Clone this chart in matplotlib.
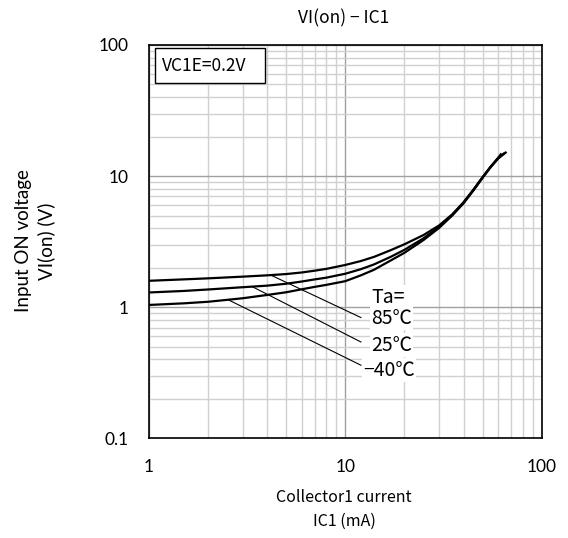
import matplotlib
matplotlib.use("Agg")
import matplotlib.pyplot as plt
from matplotlib.patches import Rectangle
from matplotlib.ticker import LogLocator, NullFormatter, FixedLocator

plt.rcParams['font.family'] = ['Noto Sans CJK JP', 'DejaVu Sans']

# Data
ic_85 = [1, 1.5, 2, 3, 4, 5, 6, 7, 8, 10, 12, 14, 17, 20, 25, 30, 35, 40, 45, 50, 55, 60, 62.4]
v_85 = [1.59, 1.63, 1.66, 1.71, 1.75, 1.79, 1.84, 1.90, 1.96, 2.10, 2.25, 2.42, 2.72, 3.02,
        3.55, 4.20, 5.1, 6.3, 7.9, 9.8, 11.8, 13.8, 14.9]
ic_25 = [1, 1.5, 2, 3, 4, 5, 6, 7, 8, 10, 12, 14, 17, 20, 25, 30, 35, 40, 45, 50, 55, 60, 65]
v_25 = [1.295, 1.33, 1.365, 1.42, 1.46, 1.51, 1.57, 1.63, 1.68, 1.80, 1.95, 2.12, 2.42, 2.74,
        3.35, 4.10, 5.05, 6.3, 7.9, 9.8, 11.8, 13.7, 15.1]
ic_m40 = [1, 1.5, 2, 3, 4, 5, 6, 7, 8, 10, 12, 14, 17, 20, 25, 30, 35, 40, 45, 50, 55, 60, 66.2]
v_m40 = [1.04, 1.07, 1.10, 1.17, 1.24, 1.30, 1.37, 1.43, 1.48, 1.58, 1.75, 1.93, 2.27, 2.60,
         3.25, 4.02, 5.0, 6.2, 7.8, 9.7, 11.7, 13.6, 15.3]

x_ticks = [1, 10, 100]
x_tick_labels = ["1", "10", "100"]
y_ticks = [0.1, 1, 10, 100]
y_tick_labels = ["0.1", "1", "10", "100"]

temp_labels = ["85℃", "25℃", "−40℃"]
leader_start = [(4.18, 1.755), (3.37, 1.43), (2.56, 1.13)]
leader_end = [(12.0, 0.834), (12.0, 0.543), (12.0, 0.361)]
label_pos = [(13.5, 0.824), (13.5, 0.513), (12.3, 0.330)]

fig = plt.figure(figsize=(5.68, 5.38), dpi=100)
ax = fig.add_axes([0.2623, 0.1853, 0.6914, 0.7311])
ax.set_xscale('log')
ax.set_yscale('log')
ax.set_xlim(1, 100)
ax.set_ylim(0.1, 100)

ax.xaxis.set_major_locator(FixedLocator(x_ticks))
ax.yaxis.set_major_locator(FixedLocator(y_ticks))
ax.xaxis.set_minor_locator(LogLocator(base=10, subs=range(2, 10)))
ax.yaxis.set_minor_locator(LogLocator(base=10, subs=range(2, 10)))
ax.xaxis.set_minor_formatter(NullFormatter())
ax.yaxis.set_minor_formatter(NullFormatter())
ax.set_xticklabels(x_tick_labels)
ax.set_yticklabels(y_tick_labels)
ax.tick_params(which='both', length=0)
ax.tick_params(axis='x', pad=15, labelsize=12.5)
ax.tick_params(axis='y', pad=15, labelsize=12.5)
for lab in ax.get_xticklabels() + ax.get_yticklabels():
    lab.set_family(['Lato', 'DejaVu Sans'])

ax.grid(which='major', color='#a0a0a0', linewidth=1.0)
ax.grid(which='minor', color='#d0d0d0', linewidth=1.0)
ax.set_axisbelow(True)
for s in ax.spines.values():
    s.set_linewidth(1.2)
    s.set_color('black')

for xs, ys in [(ic_85, v_85), (ic_25, v_25), (ic_m40, v_m40)]:
    ax.plot(xs, ys, color='black', linewidth=1.6, solid_capstyle='butt', zorder=3)

for (x0, y0), (x1, y1) in zip(leader_start, leader_end):
    ax.plot([x0, x1], [y0, y1], color='black', linewidth=0.8, zorder=3)

ax.text(13.5, 1.19, "Ta=", fontsize=14, va='center', ha='left', zorder=4,
        bbox=dict(facecolor='white', edgecolor='none', pad=1))
for t, (x, y) in zip(temp_labels, label_pos):
    ax.text(x, y, t, fontsize=14, va='center', ha='left', zorder=4,
            bbox=dict(facecolor='white', edgecolor='none', pad=1))

ax.add_patch(Rectangle((0.0153, 0.9025), 0.2807, 0.0891, transform=ax.transAxes,
                       facecolor='white', edgecolor='black', linewidth=1.0, zorder=5))
ax.text(0.0323, 0.947, "VC1E=0.2V", transform=ax.transAxes, fontsize=12.5,
        va='center', ha='left', zorder=6)

fig.text(0.6056, 0.966, "VI(on) − IC1", fontsize=12.5, ha='center', va='center')
fig.text(0.6056, 0.053, "Collector1 current\nIC1 (mA)", fontsize=11.5,
         ha='center', va='center', linespacing=1.5)
fig.text(0.062, 0.552, "Input ON voltage\nVI(on) (V)", fontsize=13.5, rotation=90,
         ha='center', va='center', linespacing=1.35, family=['Lato', 'DejaVu Sans'])

fig.savefig("out.png", dpi=100)
